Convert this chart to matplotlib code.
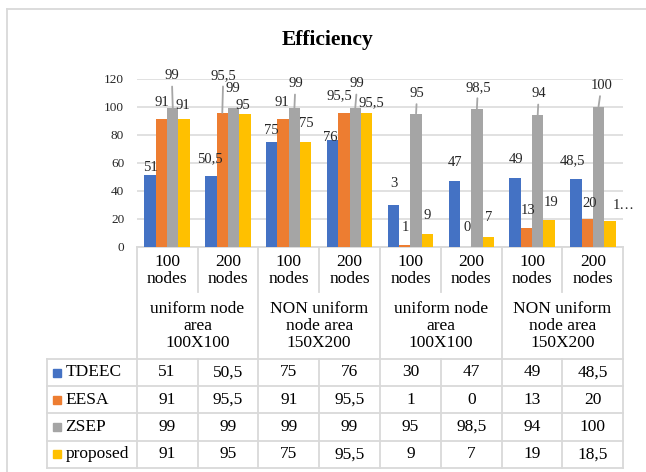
import numpy as np
import matplotlib
matplotlib.use('Agg')
import matplotlib.pyplot as plt
from matplotlib.patches import Rectangle

plt.rcParams['font.family'] = ['Liberation Serif', 'DejaVu Serif']

# Data
nodes = ['100\nnodes', '200\nnodes'] * 4
areas = ['uniform node\narea\n100X100', 'NON uniform\nnode area\n150X200',
         'uniform node\narea\n100X100', 'NON uniform\nnode area\n150X200']
series = ['TDEEC', 'EESA', 'ZSEP', 'proposed']
tdeec = [51, 50.5, 75, 76, 30, 47, 49, 48.5]
eesa = [91, 95.5, 91, 95.5, 1, 0, 13, 20]
zsep = [99, 99, 99, 99, 95, 98.5, 94, 100]
proposed = [91, 95, 75, 95.5, 9, 7, 19, 18.5]
values = [tdeec, eesa, zsep, proposed]
colors = ['#4472C4', '#ED7D31', '#A5A5A5', '#FFC000']

# labels Excel cut short on the chart
label_override = {(0, 4): '3', (3, 7): '1\u2026'}

# label offsets (px) from the bar top, per series / category
label_off = [
    [(0, 8), (-1, 17), (0, 11), (-2, 3), (0, 21), (1, 18), (1, 18), (-3, 18)],
    [(0, 17), (1, 37), (-1, 17), (-5, 17), (1, 18), (2, 19), (2, 18), (2, 15)],
    [(-1, 32), (-1, 19), (1, 24), (2, 24), (1, 20), (1, 21), (1, 21), (3, 21)],
    [(-1, 14), (-2, 8), (1, 18), (5, 10), (0, 18), (0, 19), (2, 17), (14, 15)],
]
leaders = [(2, 0), (1, 1), (2, 2), (2, 3), (2, 4), (2, 5), (2, 6), (2, 7)]


def fmt(v):
    if float(v).is_integer():
        return str(int(v))
    return str(v).replace('.', ',')


W, H = 646, 472
fig = plt.figure(figsize=(W / 100, H / 100), dpi=100)

# pixel layout
x0, x1 = 136.7, 623.3
y0, ytop = 246.5, 78.5
ax = fig.add_axes([x0 / W, 1 - y0 / H, (x1 - x0) / W, (y0 - ytop) / H])

n = len(tdeec)
bw = 0.186
xs = np.arange(n)
for j, (vals, c) in enumerate(zip(values, colors)):
    pos = xs + (j - 1.5) * bw
    ax.bar(pos, vals, width=bw, color=c, zorder=3)
    for i, v in enumerate(vals):
        txt = label_override.get((j, i), fmt(v))
        dx, dy = label_off[j][i]
        kw = {}
        if (j, i) in leaders:
            kw['arrowprops'] = dict(arrowstyle='-', color='#A6A6A6', lw=1.3,
                                    shrinkA=1, shrinkB=0)
        ax.annotate(txt, xy=(pos[i], v), xytext=(dx, dy),
                    textcoords='offset pixels', ha='center', va='center',
                    fontsize=10.5, color='#262626', annotation_clip=False,
                    zorder=5, **kw)

ax.set_xlim(-0.5, n - 0.5)
ax.set_ylim(0, 120)
ax.set_yticks(np.arange(0, 121, 20))
ax.set_xticks([])
ax.tick_params(axis='y', length=0, pad=9, labelsize=9.5, labelcolor='#262626')
ax.grid(axis='y', color='#D9D9D9', lw=1.1, zorder=0)
for s in ax.spines.values():
    s.set_visible(False)
ax.set_facecolor('none')

# overlay in pixel coordinates for frame, title and data table
ov = fig.add_axes([0, 0, 1, 1], zorder=-1)
ov.set_xlim(0, W)
ov.set_ylim(H, 0)
ov.axis('off')

lc = '#D9D9D9'
lw = 1.3
ov.plot([7, W], [9, 9], color=lc, lw=lw)
ov.plot([7, 7], [9, H], color=lc, lw=lw)

ov.text(328, 40, 'Efficiency', ha='center', va='center', fontsize=15.5,
        fontweight='bold', color='black')

colw = (x1 - x0) / n
bounds = [x0 + k * colw for k in range(n + 1)]
rowA = 291.7
rowB = 359
rows = [359, 386, 413, 440.5, 468]
leg_left = 46.7

# vertical lines
for k, bx in enumerate(bounds):
    if k % 2 == 0:
        ov.plot([bx, bx], [y0, rows[-1]], color=lc, lw=lw)
    else:
        ov.plot([bx, bx], [y0, rowA], color=lc, lw=lw)
        ov.plot([bx, bx], [rowB, rows[-1]], color=lc, lw=lw)
ov.plot([leg_left, leg_left], [rows[0], rows[-1]], color=lc, lw=lw)
ov.plot([x0, x1], [y0, y0], color=lc, lw=lw)
for ry in rows:
    ov.plot([leg_left, x1], [ry, ry], color=lc, lw=lw)

tfs = 12.5
for i, lab in enumerate(nodes):
    ov.text((bounds[i] + bounds[i + 1]) / 2, 270.5, lab, ha='center',
            va='center', fontsize=tfs, linespacing=1.05)
for g, lab in enumerate(areas):
    ov.text((bounds[2 * g] + bounds[2 * g + 2]) / 2, 326, lab, ha='center',
            va='center', fontsize=tfs, linespacing=1.1)

for j, (name, vals, c) in enumerate(zip(series, values, colors)):
    cy = (rows[j] + rows[j + 1]) / 2
    ov.add_patch(Rectangle((52.7, cy - 4), 8, 8, color=c))
    ov.text(65.5, cy, name, ha='left', va='center', fontsize=tfs)
    for i, v in enumerate(vals):
        ov.text((bounds[i] + bounds[i + 1]) / 2, cy, fmt(v), ha='center',
                va='center', fontsize=tfs)

fig.savefig('out.png', dpi=100)
